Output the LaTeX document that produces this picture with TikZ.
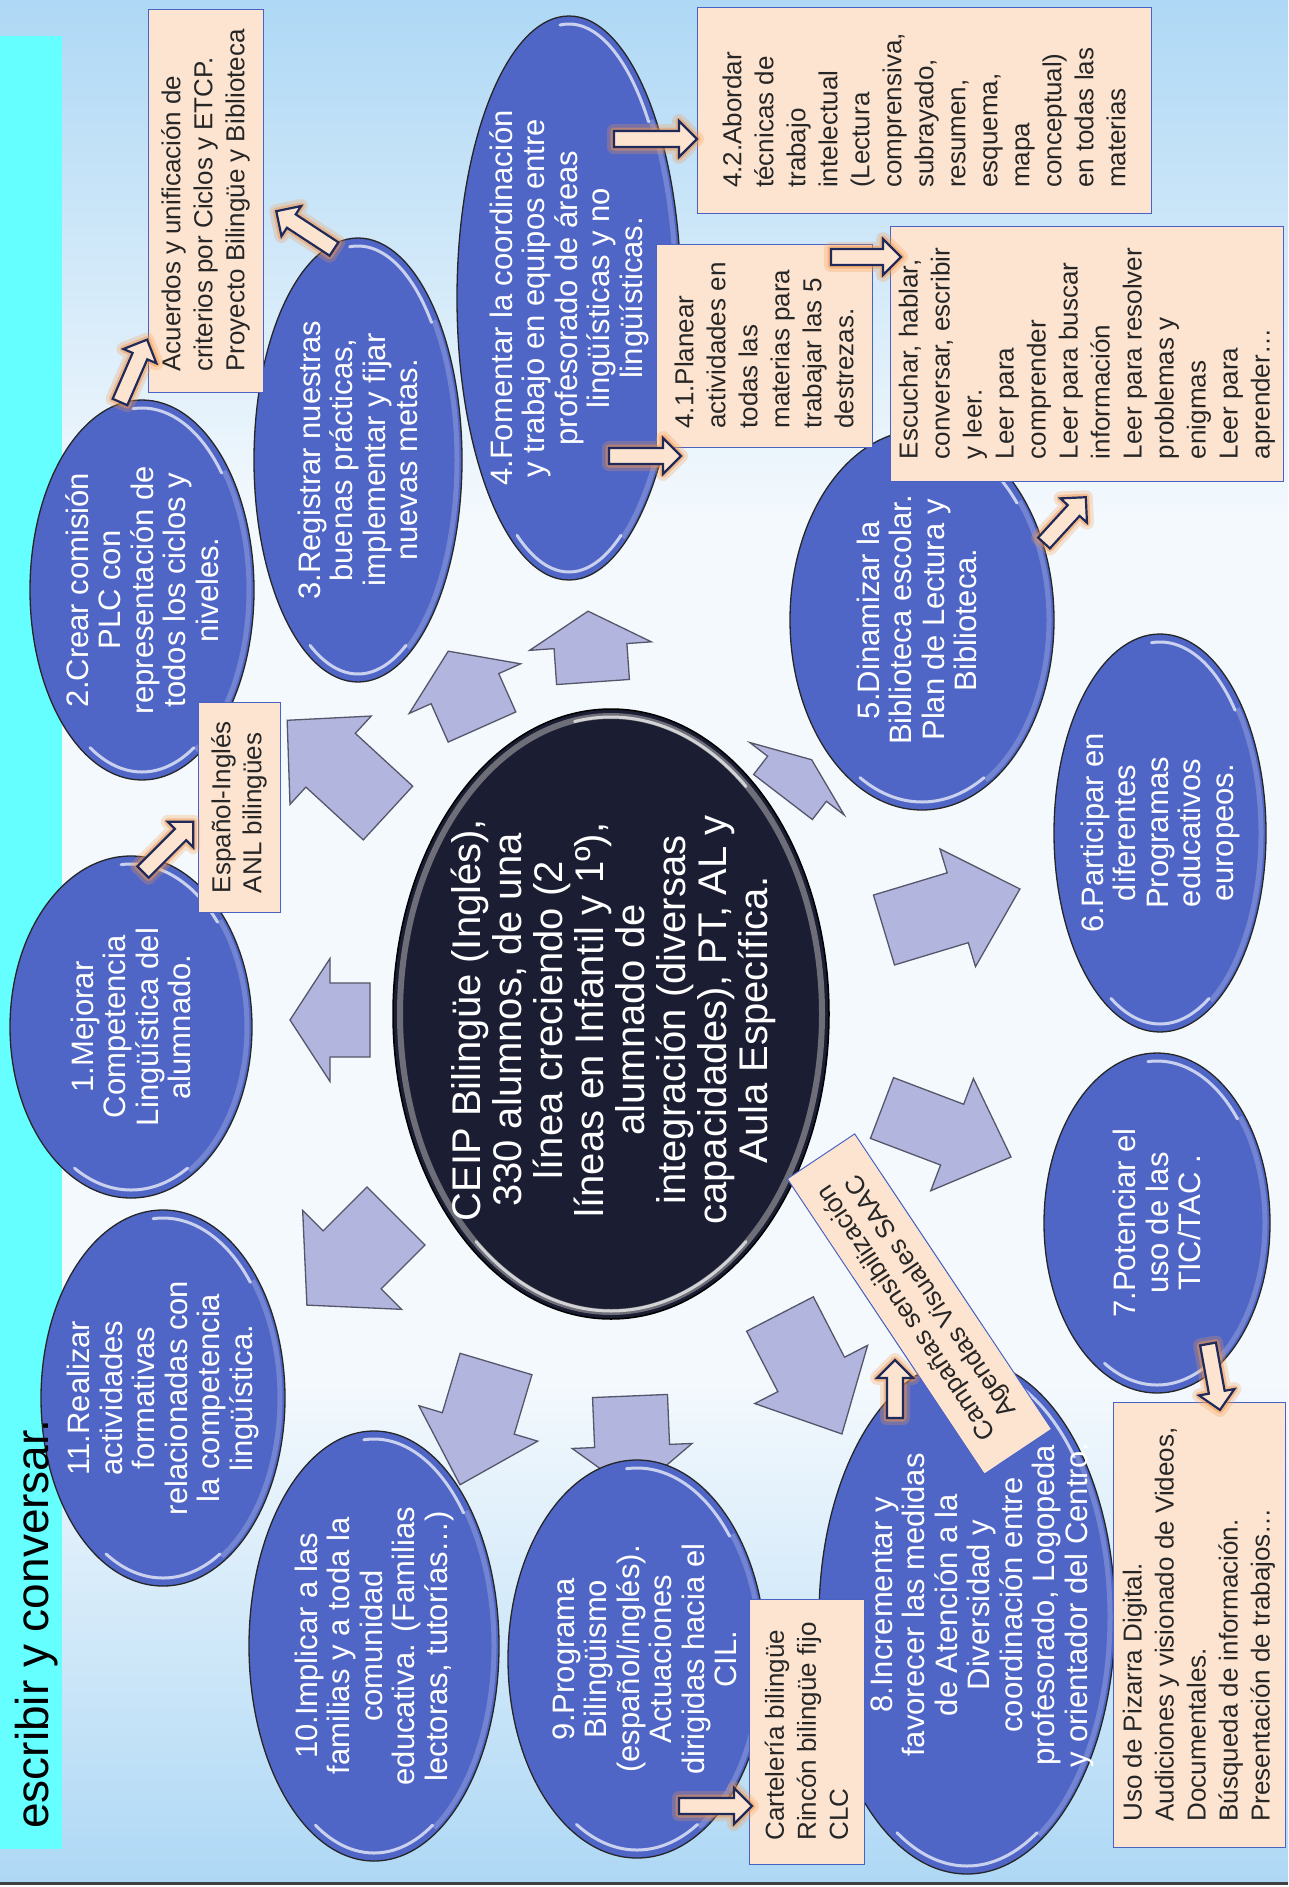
\documentclass[tikz,border=0pt]{standalone}
\usepackage{fontspec}
\setmainfont{Liberation Sans}
\usetikzlibrary{shapes.geometric,calc}

\definecolor{bgblue}{HTML}{AED8F5}
\definecolor{bgwhite}{HTML}{F4F9FD}
\definecolor{cyanband}{HTML}{66FFFF}
\definecolor{goalblue}{HTML}{4F66C7}
\definecolor{hubnavy}{HTML}{1B1D33}
\definecolor{notefill}{HTML}{FDE4D0}
\definecolor{noteline}{HTML}{4A62C4}
\definecolor{arrowfill}{HTML}{B2B6DF}
\definecolor{arrowline}{HTML}{55566A}
\definecolor{glow}{HTML}{F79646}
\definecolor{navyline}{HTML}{1F2A5A}

\newcommand{\blockarrow}[7]{%
  \begin{scope}[shift={(#2)},rotate=#3]
    \draw[#1] (0,#5/2) -- (#4-#7,#5/2) -- (#4-#7,#6/2) -- (#4,0)
      -- (#4-#7,-#6/2) -- (#4-#7,-#5/2) -- (0,-#5/2) -- cycle;
  \end{scope}}
\newcommand{\glowarrow}[3]{%
  \blockarrow{glowout}{#1}{#2}{#3}{16}{36}{18}%
  \blockarrow{glowin}{#1}{#2}{#3}{16}{36}{18}%
  \blockarrow{smallarrow}{#1}{#2}{#3}{16}{36}{18}}

\begin{document}
\begin{tikzpicture}[x=1pt,y=-1pt,
  goal/.style={ellipse, draw=black!85, line width=1.3pt, fill=goalblue, inner sep=0pt,
    path picture={
      \draw[white, opacity=.7, line width=3pt, line cap=round]
        let \p1=(path picture bounding box.north east), \p2=(path picture bounding box.center),
            \n1={\x1-\x2-8pt}, \n2={\y1-\y2-8pt} in
        ($(\p2)+(95:\n1 and \n2)$) arc[start angle=95, end angle=40, x radius=\n1, y radius=\n2]
        ($(\p2)+(-60:\n1 and \n2)$) arc[start angle=-60, end angle=-120, x radius=\n1, y radius=\n2];
      \draw[white, opacity=.2, line width=5pt]
        let \p1=(path picture bounding box.north east), \p2=(path picture bounding box.center),
            \n1={\x1-\x2-5pt}, \n2={\y1-\y2-5pt} in
        ($(\p2)+(40:\n1 and \n2)$) arc[start angle=40, end angle=-60, x radius=\n1, y radius=\n2];
    }},
  goaltext/.style={rotate=90, text=white, align=center, inner sep=0pt, font=\fontsize{31}{32.5}\selectfont},
  hub/.style={ellipse, draw=black, line width=1.5pt, fill=hubnavy, inner sep=0pt,
    path picture={
      \draw[gray!60, opacity=.55, line width=6pt]
        let \p1=(path picture bounding box.north east), \p2=(path picture bounding box.center),
            \n1={\x1-\x2-7pt}, \n2={\y1-\y2-7pt} in
        (\p2) ellipse [x radius=\n1, y radius=\n2];
      \draw[white, opacity=.7, line width=3pt, line cap=round]
        let \p1=(path picture bounding box.north east), \p2=(path picture bounding box.center),
            \n1={\x1-\x2-8pt}, \n2={\y1-\y2-8pt} in
        ($(\p2)+(100:\n1 and \n2)$) arc[start angle=100, end angle=50, x radius=\n1, y radius=\n2]
        ($(\p2)+(-50:\n1 and \n2)$) arc[start angle=-50, end angle=-130, x radius=\n1, y radius=\n2];
    }},
  hubtext/.style={rotate=90, text=white, align=center, inner sep=0pt, font=\fontsize{40}{41}\selectfont},
  note/.style={rectangle, draw=noteline, line width=1pt, fill=notefill, align=left,
    inner sep=8pt, text=black!85, font=\fontsize{26}{32}\selectfont},
  bigarrow/.style={fill=arrowfill, draw=arrowline, line width=1.3pt, line join=miter},
  glowout/.style={draw=glow, line width=14pt, opacity=.25, line join=round},
  glowin/.style={draw=glow, line width=7pt, opacity=.45, line join=round},
  smallarrow/.style={draw=navyline, fill=notefill, line width=2.2pt, line join=miter}]

\useasboundingbox (0,0) rectangle (1288,1887);
\fill[bgwhite] (0,0) rectangle (1288,1887);
\shade[top color=bgblue, bottom color=bgwhite] (0,0) rectangle (1288,520);
\shade[top color=bgwhite, bottom color=bgblue] (0,1380) rectangle (1288,1882);
\fill[black!75] (0,1882) rectangle (1288,1885);
\fill[white] (0,1885) rectangle (1288,1887);
\fill[cyanband] (0,36) rectangle (62,1849);

\node[hub, minimum width=436pt, minimum height=610pt] (hub) at (611,1014) {};
\node[hubtext] (hubtxt) at (613,1020) {CEIP Bilingüe (Inglés),\\330 alumnos, de una\\línea creciendo (2\\líneas en Infantil y 1º),\\alumnado de\\integración (diversas\\capacidades), PT, AL y\\Aula Específica.};

\blockarrow{bigarrow}{370,1020}{180}{80}{74}{123}{40}
\blockarrow{bigarrow}{388,813}{137.4}{137}{73}{120}{59}
\blockarrow{bigarrow}{482,727}{114}{83}{74}{122}{41}
\blockarrow{bigarrow}{593,682}{94}{71}{73}{122}{35}
\blockarrow{bigarrow}{783,797}{52.5}{47}{74}{119}{24}
\blockarrow{bigarrow}{884,930}{16.8}{142}{73}{123}{65}
\blockarrow{bigarrow}{882,1108}{-20.8}{138}{65}{120}{63}
\blockarrow{bigarrow}{780,1314}{-62.7}{135}{75}{127}{67}
\blockarrow{bigarrow}{630,1396}{-87.6}{97}{75}{120}{47}
\blockarrow{bigarrow}{496,1364}{-106.6}{126}{75}{124}{64}
\blockarrow{bigarrow}{396,1216}{-135}{126}{82}{140}{64}

\node[goal, minimum width=242pt, minimum height=342pt] (e1) at (131,1027) {};
\node[goaltext] (e1txt) at (e1) {1.Mejorar\\Competencia\\Lingüística del\\alumnado.};
\node[goal, minimum width=224pt, minimum height=380pt] (e2) at (142,590) {};
\node[goaltext] (e2txt) at (e2) {2.Crear comisión\\PLC con\\representación de\\todos los ciclos y\\niveles.};
\node[goal, minimum width=208pt, minimum height=444pt] (e3) at (358,460) {};
\node[goaltext] (e3txt) at (e3) {3.Registrar nuestras\\buenas prácticas,\\implementar y fijar\\nuevas metas.};
\node[goal, minimum width=224pt, minimum height=564pt] (e4) at (569,298) {};
\node[goaltext] (e4txt) at (e4) {4.Fomentar la coordinación\\y trabajo en equipos entre\\profesorado de áreas\\lingüísticas y no\\lingüísticas.};
\node[goal, minimum width=264pt, minimum height=380pt] (e5) at (922,620) {};
\node[goaltext] (e5txt) at (917,620) {5.Dinamizar la\\Biblioteca escolar.\\Plan de Lectura y\\Biblioteca.};
\node[goal, minimum width=212pt, minimum height=398pt] (e6) at (1160,833) {};
\node[goaltext] (e6txt) at (e6) {6.Participar en\\diferentes\\Programas\\educativos\\europeos.};
\node[goal, minimum width=226pt, minimum height=340pt] (e7) at (1157,1223) {};
\node[goaltext] (e7txt) at (e7) {7.Potenciar el\\uso de las\\TIC/TAC .};
\node[goal, minimum width=296pt, minimum height=514pt] (e8) at (967,1617) {};
\node[goaltext] (e8txt) at (982,1605) {8.Incrementar y\\favorecer las medidas\\de Atención a la\\Diversidad y\\coordinación entre\\profesorado, Logopeda\\y orientador del Centro.};
\node[goal, minimum width=258pt, minimum height=398pt] (e9) at (637,1659) {};
\node[goaltext] (e9txt) at (645,1659) {9.Programa\\Bilingüismo\\(español/inglés).\\Actuaciones\\dirigidas hacia el\\CIL.};
\node[goal, minimum width=250pt, minimum height=430pt] (e10) at (374,1646) {};
\node[goaltext] (e10txt) at (e10) {10.Implicar a las\\familias y a toda la\\comunidad\\educativa. (Familias\\lectoras, tutorías…)};
\node[goal, minimum width=244pt, minimum height=376pt] (e11) at (163,1398) {};
\node[goaltext] (e11txt) at (e11) {11.Realizar\\actividades\\formativas\\relacionadas con\\la competencia\\lingüística.};

\node[note, rotate=90, minimum width=383pt, minimum height=115pt] (acuerdos) at (205.5,200.5) {Acuerdos y unificación de\\criterios por Ciclos y ETCP.\\Proyecto Bilingüe y Biblioteca};
\node[note, rotate=90, minimum width=206pt, minimum height=454pt] (tecnicas) at (924,110.5) {4.2.Abordar\\técnicas de\\trabajo\\intelectual\\(Lectura\\comprensiva,\\subrayado,\\resumen,\\esquema,\\mapa\\conceptual)\\en todas las\\materias};
\node[note, rotate=90, minimum width=203pt, minimum height=216pt] (planear) at (764,345.5) {4.1.Planear\\actividades en\\todas las\\materias para\\trabajar las 5\\destrezas.};
\node[note, rotate=90, minimum width=255pt, minimum height=390pt] (escuchar) at (1087,353.5) {Escuchar, hablar,\\conversar, escribir\\y leer.\\Leer para\\comprender\\Leer para buscar\\información\\Leer para resolver\\problemas y\\enigmas\\Leer para\\aprender…};
\node[note, rotate=90, minimum width=445pt, minimum height=172pt] (pizarra) at (1199,1624.5) {Uso de Pizarra Digital.\\Audiciones y visionado de Videos,\\Documentales.\\Búsqueda de información.\\Presentación de trabajos…};
\node[note, rotate=90, minimum width=265pt, minimum height=115pt] (carteleria) at (806.5,1731.5) {Cartelería bilingüe\\Rincón bilingüe fijo\\CLC};
\node[note, rotate=90, minimum width=210pt, minimum height=82pt, font=\fontsize{26}{31}\selectfont] (espanol) at (239,807) {Español-Inglés\\ANL bilingües};
\node[note, rotate=123.7, align=center, minimum width=355pt, minimum height=81pt, font=\fontsize{26}{30}\selectfont] (campanas) at (919.5,1304) {Campañas sensibilización\\Agendas Visuales SAAC};

\glowarrow{120,402}{66.5}{68}
\glowarrow{334,249}{146.8}{69}
\glowarrow{143,872}{45}{71}
\glowarrow{614,139}{0}{83}
\glowarrow{609,456}{0}{72}
\glowarrow{831,257}{0}{70}
\glowarrow{1044,543}{47.6}{62}
\glowarrow{1208,1344}{-79.7}{67}
\glowarrow{895,1418}{90}{58}
\glowarrow{679,1806}{0}{73}

\node[rotate=90, anchor=base west, inner sep=0pt, font=\fontsize{46}{50}\selectfont] (motto) at (48,1829) {escribir y conversar.};
\end{tikzpicture}
\end{document}
